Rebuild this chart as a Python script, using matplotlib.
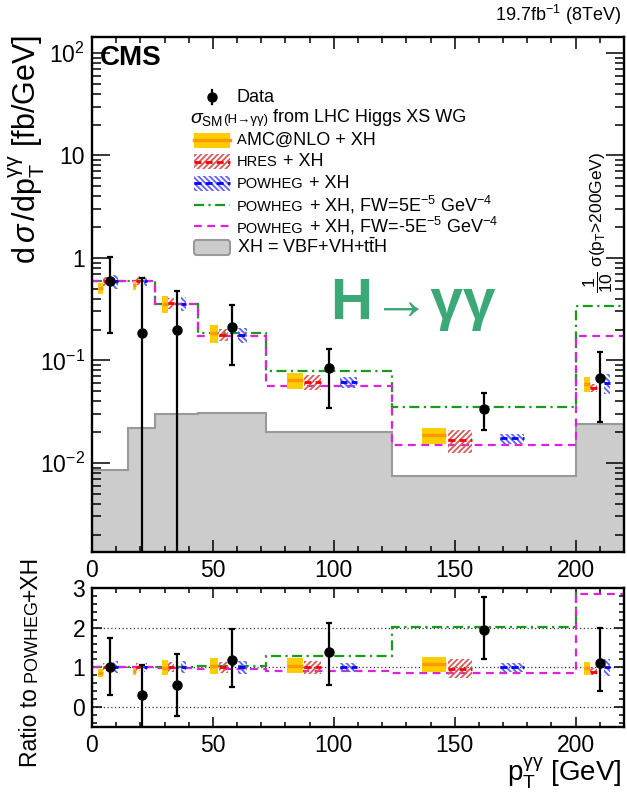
import numpy as np
import matplotlib.pyplot as plt
from matplotlib.patches import Rectangle, FancyBboxPatch
from matplotlib.lines import Line2D
from matplotlib.offsetbox import TextArea, HPacker, AnnotationBbox
from matplotlib.ticker import MultipleLocator, FixedLocator, FixedFormatter, LogLocator, NullFormatter

plt.rcParams['font.family'] = ['Liberation Sans', 'DejaVu Sans']
plt.rcParams['mathtext.fontset'] = 'custom'
plt.rcParams['mathtext.rm'] = 'Liberation Sans'
plt.rcParams['mathtext.it'] = 'Liberation Sans:italic'
plt.rcParams['mathtext.bf'] = 'Liberation Sans:bold'
plt.rcParams['hatch.linewidth'] = 1.3

# p_T bins (GeV); the last bin is >200 GeV, drawn up to 220
edges = [0, 15, 26, 44, 72, 124, 200, 220]

# measured cross sections (fb/GeV), last bin scaled by 1/10
data_val = [0.60, 0.183, 0.197, 0.212, 0.085, 0.0337, 0.0676]
data_up = [0.43, 0.447, 0.279, 0.136, 0.045, 0.0143, 0.053]
data_dn = [0.415, 0.50, 0.276, 0.122, 0.0504, 0.0127, 0.0426]

# predictions
amc_val = [0.51, 0.54, 0.357, 0.185, 0.0645, 0.0186, 0.059]
amc_unc = [0.12, 0.10, 0.19, 0.20, 0.18, 0.18, 0.16]
hres_val = [0.59, 0.60, 0.36, 0.178, 0.0616, 0.0168, 0.054]
hres_unc = [0.10, 0.10, 0.12, 0.13, 0.17, 0.25, 0.10]
pow_val = [0.59, 0.60, 0.358, 0.178, 0.0616, 0.0173, 0.0604]
pow_unc = [0.15, 0.12, 0.15, 0.17, 0.12, 0.11, 0.22]
fwp_val = [0.60, 0.60, 0.358, 0.183, 0.079, 0.0347, 0.338]
fwm_val = [0.59, 0.60, 0.352, 0.172, 0.0565, 0.0150, 0.172]
xh_val = [0.0086, 0.022, 0.030, 0.031, 0.020, 0.0074, 0.0237]

ytick_vals = [1e-2, 1e-1, 1, 10, 100]
ytick_labels = ['$10^{-2}$', '$10^{-1}$', '1', '10', '$10^{2}$']

GREEN = '#1a9a1a'
MAGENTA = '#dd22dd'
HRES_H = '#d65c5c'
POW_H = '#6262ff'
HATCH_R = '//////'
HATCH_B = '\\' * 6

fig = plt.figure(figsize=(6.27, 7.95), dpi=100)
W, H = 627.0, 795.0
fx = lambda px: px / W
fy = lambda py: 1 - py / H

L, R = 92, 624
ax = fig.add_axes([fx(L), fy(552), fx(R) - fx(L), fy(37) - fy(552)])
rx = fig.add_axes([fx(L), fy(727), fx(R) - fx(L), fy(588) - fy(727)])

edges_a = np.array(edges, dtype=float)
lo = edges_a[:-1]
wid = np.diff(edges_a)
x_amc = lo + 0.23 * wid
x_hres = lo + 0.37 * wid
x_dat = lo + 0.5 * wid
x_pow = lo + 0.655 * wid
bw = 0.13 * wid


def band(a, x, val, unc, face, hcol, hatch, lcol, ls, lw):
    val = np.asarray(val)
    unc = np.asarray(unc)
    if hatch is None:
        a.bar(x, 2 * unc * val, width=bw, bottom=val * (1 - unc), color=face,
              linewidth=0, zorder=3)
    else:
        a.bar(x, 2 * unc * val, width=bw, bottom=val * (1 - unc), color='none',
              edgecolor=hcol, hatch=hatch, linewidth=0, zorder=3)
    a.hlines(val, x - bw / 2, x + bw / 2, colors=lcol, linestyles=ls, lw=lw, zorder=4)


def draw_panel(a, scale):
    s = np.asarray(scale)
    if a is ax:
        a.stairs(xh_val, edges, baseline=1e-6, fill=True, facecolor='#cccccc',
                 edgecolor='#999999', lw=1.5, zorder=1)
    a.stairs(np.array(fwp_val) / s, edges, baseline=None, color=GREEN, lw=1.6,
             ls=(0, (4.5, 2, 1, 2)), zorder=2)
    a.stairs(np.array(fwm_val) / s, edges, baseline=None, color=MAGENTA, lw=1.6,
             ls=(0, (3.5, 2.5)), zorder=2)
    band(a, x_amc, np.array(amc_val) / s, amc_unc, '#ffcc00', None, None, '#ff9900', 'solid', 2.5)
    band(a, x_hres, np.array(hres_val) / s, hres_unc, None, HRES_H, HATCH_R, '#ff0000', (0, (2.5, 1.5)), 2)
    band(a, x_pow, np.array(pow_val) / s, pow_unc, None, POW_H, HATCH_B, '#0000ff', (0, (2.5, 1.5)), 2)
    a.errorbar(x_dat, np.array(data_val) / s,
               yerr=[np.array(data_dn) / s, np.array(data_up) / s],
               fmt='o', color='k', ms=6.5, lw=1.6, capsize=2.5, capthick=1.6, zorder=10)


draw_panel(ax, np.ones(len(pow_val)))
draw_panel(rx, pow_val)

ax.set_yscale('log')
ax.set_xlim(0, 220)
ax.set_ylim(1.35e-3, 143)
rx.set_xlim(0, 220)
rx.set_ylim(-0.5, 3)
for v in [0, 1, 2]:
    rx.axhline(v, color='#333333', ls=(0, (1, 2)), lw=0.9, zorder=0)

for a in (ax, rx):
    a.tick_params(which='both', direction='in', top=True, right=True, width=1.1,
                  labelsize=16.5, pad=5)
    for sp in a.spines.values():
        sp.set_linewidth(1.7)
    a.xaxis.set_major_locator(MultipleLocator(50))
    a.xaxis.set_minor_locator(MultipleLocator(10))
ax.tick_params(axis='x', which='major', length=8.5)
ax.tick_params(axis='x', which='minor', length=4.3)
ax.tick_params(axis='y', which='major', length=13)
ax.tick_params(axis='y', which='minor', length=6.5)
ax.yaxis.set_major_locator(FixedLocator(ytick_vals))
ax.yaxis.set_major_formatter(FixedFormatter(ytick_labels))
ax.yaxis.set_minor_locator(LogLocator(subs=np.arange(2, 10) * 1.0, numticks=30))
ax.yaxis.set_minor_formatter(NullFormatter())
rx.tick_params(axis='x', which='major', length=7)
rx.tick_params(axis='x', which='minor', length=3.5)
rx.tick_params(axis='y', which='major', length=7)
rx.tick_params(axis='y', which='minor', length=3.5)
rx.yaxis.set_major_locator(FixedLocator([0, 1, 2, 3]))
rx.yaxis.set_minor_locator(MultipleLocator(0.2))

# axis titles and labels
fig.text(fx(27), fy(35), r"d$\,\sigma\,$/dp$_{\rm T}^{\rm γγ}$ [fb/GeV]", rotation=90,
         ha='center', va='top', fontsize=22)
fig.text(fx(622), fy(773), r"p$_{\rm T}^{\rm γγ}$ [GeV]", ha='right', va='center', fontsize=20)

t1 = fig.text(fx(42), fy(767), "Ratio to", rotation=90, ha='right', va='bottom', fontsize=16.5)
ann2 = ax.annotate(" POWHEG", xy=(1, 1), xycoords=t1, rotation=90, ha='right', va='bottom',
                   fontsize=13)
ax.annotate("+XH", xy=(1, 1), xycoords=ann2, rotation=90, ha='right', va='bottom', fontsize=16.5)

fig.text(fx(100), fy(58), "CMS", weight='bold', fontsize=20, va='center')
fig.text(fx(621), fy(15), r"19.7fb$^{-1}$ (8TeV)", ha='right', va='center', fontsize=13)
fig.text(fx(413), fy(304), "H→γγ", color='#3da877', fontsize=42, weight='bold',
         ha='center', va='center')
fig.text(fx(598), fy(222), r"$\dfrac{1}{10}$ σ(p$_{\rm T}$>200GeV)", rotation=90,
         ha='center', va='center', fontsize=12.5)


# legend
def parts_label(px, py, parts):
    boxes = [TextArea(t, textprops=dict(fontsize=s)) for t, s in parts]
    pack = HPacker(children=boxes, align='baseline', pad=0, sep=0)
    ab = AnnotationBbox(pack, (fx(px), fy(py)), xycoords='figure fraction',
                        box_alignment=(0, 0.5), frameon=False, pad=0)
    ax.add_artist(ab)


rows = [97, 118.5, 140, 161.5, 183, 204.5, 226, 247.5]
hx0, hx1 = 194, 230
hh = 15
small = 10.5
labels = [
    [("Data", 13)],
    [(r"$\sigma_{\rm SM}$", 14), ("(H→γγ)", 9.5), (" from LHC Higgs XS WG", 13)],
    [("A", small), ("MC@NLO + XH", 13)],
    [("HRES", small), (" + XH", 13)],
    [("POWHEG", small), (" + XH", 13)],
    [("POWHEG", small), (r" + XH, FW=5E$^{-5}$ GeV$^{-4}$", 13)],
    [("POWHEG", small), (r" + XH, FW=-5E$^{-5}$ GeV$^{-4}$", 13)],
    [(r"XH = VBF+VH+t$\bar{\rm t}$H", 13)],
]
for i, (py, lab) in enumerate(zip(rows, labels)):
    parts_label(190 if i == 1 else 237, py, lab)


def hbox(py, **kw):
    p = Rectangle((fx(hx0), fy(py + hh / 2)), fx(hx1) - fx(hx0), fy(py - hh / 2) - fy(py + hh / 2),
                  transform=fig.transFigure, **kw)
    fig.add_artist(p)


def hline(py, **kw):
    fig.add_artist(Line2D([fx(hx0), fx(hx1)], [fy(py), fy(py)], transform=fig.transFigure, **kw))


py = rows[0]
fig.add_artist(Line2D([fx(212), fx(212)], [fy(py - 7), fy(py + 7)], color='k', lw=1.6,
                      transform=fig.transFigure))
fig.add_artist(Line2D([fx(212)], [fy(py)], marker='o', ms=6.5, color='k', transform=fig.transFigure))
hbox(rows[2], facecolor='#ffcc00', linewidth=0)
hline(rows[2], color='#ff9900', lw=2.5)
hbox(rows[3], facecolor='none', edgecolor=HRES_H, hatch=HATCH_R, linewidth=0)
hline(rows[3], color='#ff0000', lw=2, ls=(0, (2.5, 1.5)))
hbox(rows[4], facecolor='none', edgecolor=POW_H, hatch=HATCH_B, linewidth=0)
hline(rows[4], color='#0000ff', lw=2, ls=(0, (2.5, 1.5)))
hline(rows[5], color=GREEN, lw=1.6, ls=(0, (4.5, 2, 1, 2)))
hline(rows[6], color=MAGENTA, lw=1.6, ls=(0, (3.5, 2.5)))
fig.add_artist(FancyBboxPatch((fx(hx0), fy(rows[7] + hh / 2)), fx(hx1) - fx(hx0),
                              fy(rows[7] - hh / 2) - fy(rows[7] + hh / 2),
                              boxstyle='round,pad=0,rounding_size=0.004',
                              facecolor='#cccccc', edgecolor='#999999', lw=1.5,
                              transform=fig.transFigure))

fig.savefig('out.png', dpi=100)
